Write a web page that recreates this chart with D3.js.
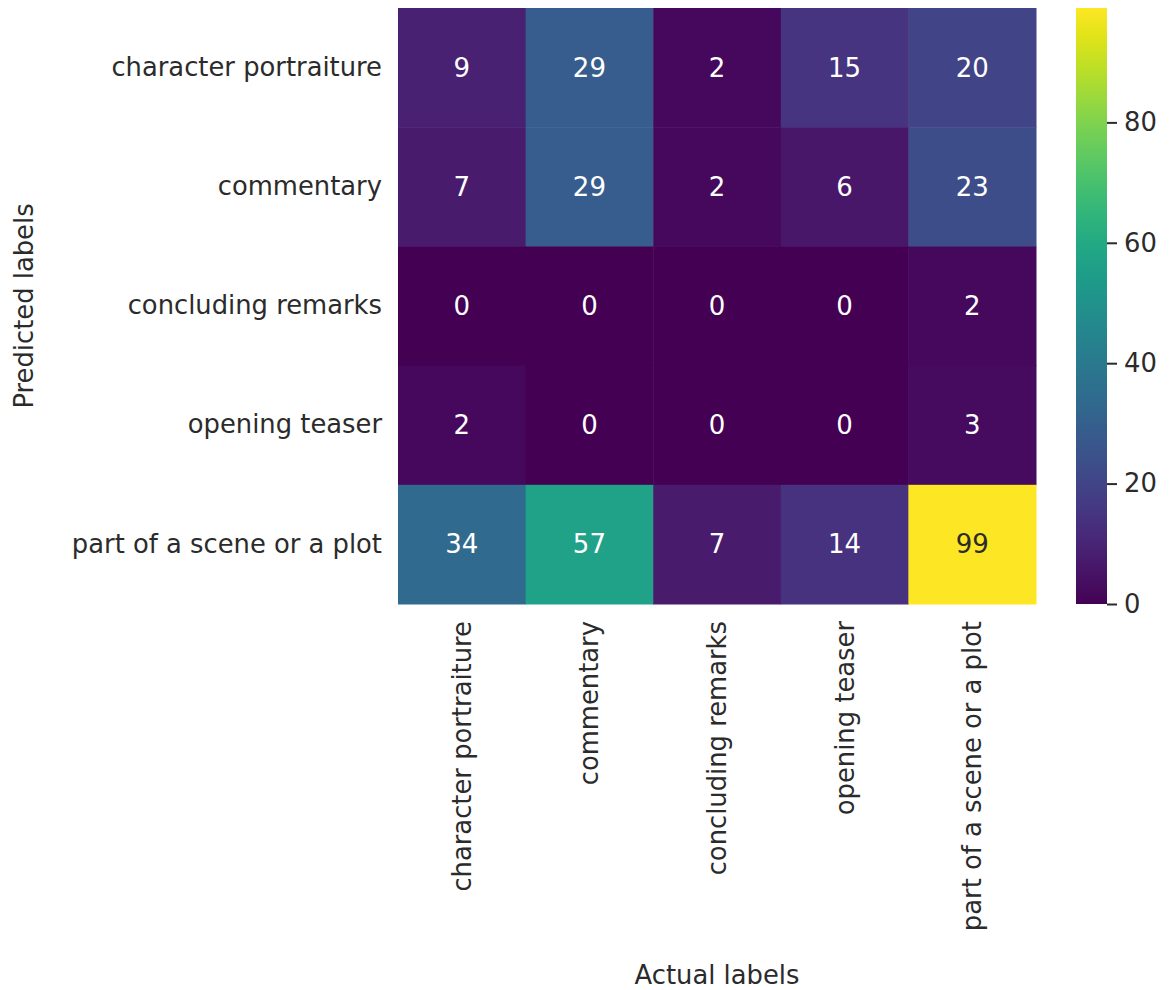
<!DOCTYPE html>
<html>
<head>
<meta charset="utf-8">
<script src="https://cdn.jsdelivr.net/npm/d3@7"></script>
<style>
  html, body { margin: 0; padding: 0; background: #fff; }
  svg { display: block; }
  text { font-family: "DejaVu Sans", sans-serif; fill: #2b2b2b; }
</style>
</head>
<body>
<svg id="chart" width="1170" height="990"></svg>
<script>
// Confusion matrix: rows = predicted label, columns = actual label
const predictedLabels = ["character portraiture", "commentary", "concluding remarks", "opening teaser", "part of a scene or a plot"];
const actualLabels = ["character portraiture", "commentary", "concluding remarks", "opening teaser", "part of a scene or a plot"];
const rowCharacterPortraiture = [9, 29, 2, 15, 20];
const rowCommentary = [7, 29, 2, 6, 23];
const rowConcludingRemarks = [0, 0, 0, 0, 2];
const rowOpeningTeaser = [2, 0, 0, 0, 3];
const rowSceneOrPlot = [34, 57, 7, 14, 99];
const colorbarTicks = [0, 20, 40, 60, 80];

const matrix = [rowCharacterPortraiture, rowCommentary, rowConcludingRemarks, rowOpeningTeaser, rowSceneOrPlot];

const svg = d3.select("#chart");
const plot = { left: 398, top: 8, right: 1036, bottom: 604 };
const labelSize = "25.8px";
const ink = "#2b2b2b";

const x = d3.scaleBand().domain(actualLabels).range([plot.left, plot.right]);
const y = d3.scaleBand().domain(predictedLabels).range([plot.top, plot.bottom]);
const vmax = d3.max(matrix.flat());
const color = d3.scaleSequential(d3.interpolateViridis).domain([0, vmax]);

const cells = [];
matrix.forEach((row, i) => row.forEach((v, j) => cells.push({ pred: predictedLabels[i], act: actualLabels[j], v })));

const g = svg.append("g");
g.selectAll("rect.cell").data(cells).join("rect")
  .attr("class", "cell")
  .attr("x", d => x(d.act))
  .attr("y", d => y(d.pred))
  .attr("width", x.bandwidth() + 0.5)
  .attr("height", y.bandwidth() + 0.5)
  .attr("fill", d => color(d.v));

g.selectAll("text.val").data(cells).join("text")
  .attr("class", "val")
  .attr("x", d => x(d.act) + x.bandwidth() / 2)
  .attr("y", d => y(d.pred) + y.bandwidth() / 2)
  .attr("text-anchor", "middle")
  .attr("dominant-baseline", "central")
  .style("font-size", "26px")
  .style("fill", d => (d.v / vmax > 0.6 ? ink : "#ffffff"))
  .text(d => d.v);

// Axes (no tick marks, labels only)
const yAxis = svg.append("g")
  .attr("transform", `translate(${plot.left},0)`)
  .call(d3.axisLeft(y).tickSize(0).tickPadding(16));
yAxis.select(".domain").remove();
yAxis.selectAll("text").style("font-size", labelSize).style("fill", ink);

const xAxis = svg.append("g")
  .attr("transform", `translate(0,${plot.bottom})`)
  .call(d3.axisBottom(x).tickSize(0).tickPadding(0));
xAxis.select(".domain").remove();
xAxis.selectAll("text")
  .style("font-size", labelSize).style("fill", ink)
  .attr("text-anchor", "end")
  .attr("dy", "0.35em")
  .attr("transform", "translate(0,17) rotate(-90)")
  .attr("x", 0).attr("y", 0);

svg.append("text")
  .attr("x", (plot.left + plot.right) / 2)
  .attr("y", 984)
  .attr("text-anchor", "middle")
  .style("font-size", labelSize)
  .text("Actual labels");

svg.append("text")
  .attr("transform", `translate(33,${(plot.top + plot.bottom) / 2}) rotate(-90)`)
  .attr("text-anchor", "middle")
  .style("font-size", labelSize)
  .text("Predicted labels");

// Colorbar
const cb = { left: 1076, width: 31, top: plot.top, bottom: plot.bottom };
const defs = svg.append("defs");
const grad = defs.append("linearGradient").attr("id", "cbgrad")
  .attr("x1", 0).attr("y1", 1).attr("x2", 0).attr("y2", 0);
d3.range(0, 1.0001, 0.05).forEach(t => {
  grad.append("stop").attr("offset", t).attr("stop-color", d3.interpolateViridis(t));
});
svg.append("rect")
  .attr("x", cb.left).attr("y", cb.top)
  .attr("width", cb.width).attr("height", cb.bottom - cb.top)
  .attr("fill", "url(#cbgrad)");

const cbScale = d3.scaleLinear().domain([0, vmax]).range([cb.bottom, cb.top]);
const cbAxis = svg.append("g")
  .attr("transform", `translate(${cb.left + cb.width},0)`)
  .call(d3.axisRight(cbScale).tickValues(colorbarTicks).tickSize(10).tickPadding(7));
cbAxis.select(".domain").remove();
cbAxis.selectAll("line").attr("stroke", ink).attr("stroke-width", 2);
cbAxis.selectAll("text").style("font-size", labelSize).style("fill", ink);
</script>
</body>
</html>
